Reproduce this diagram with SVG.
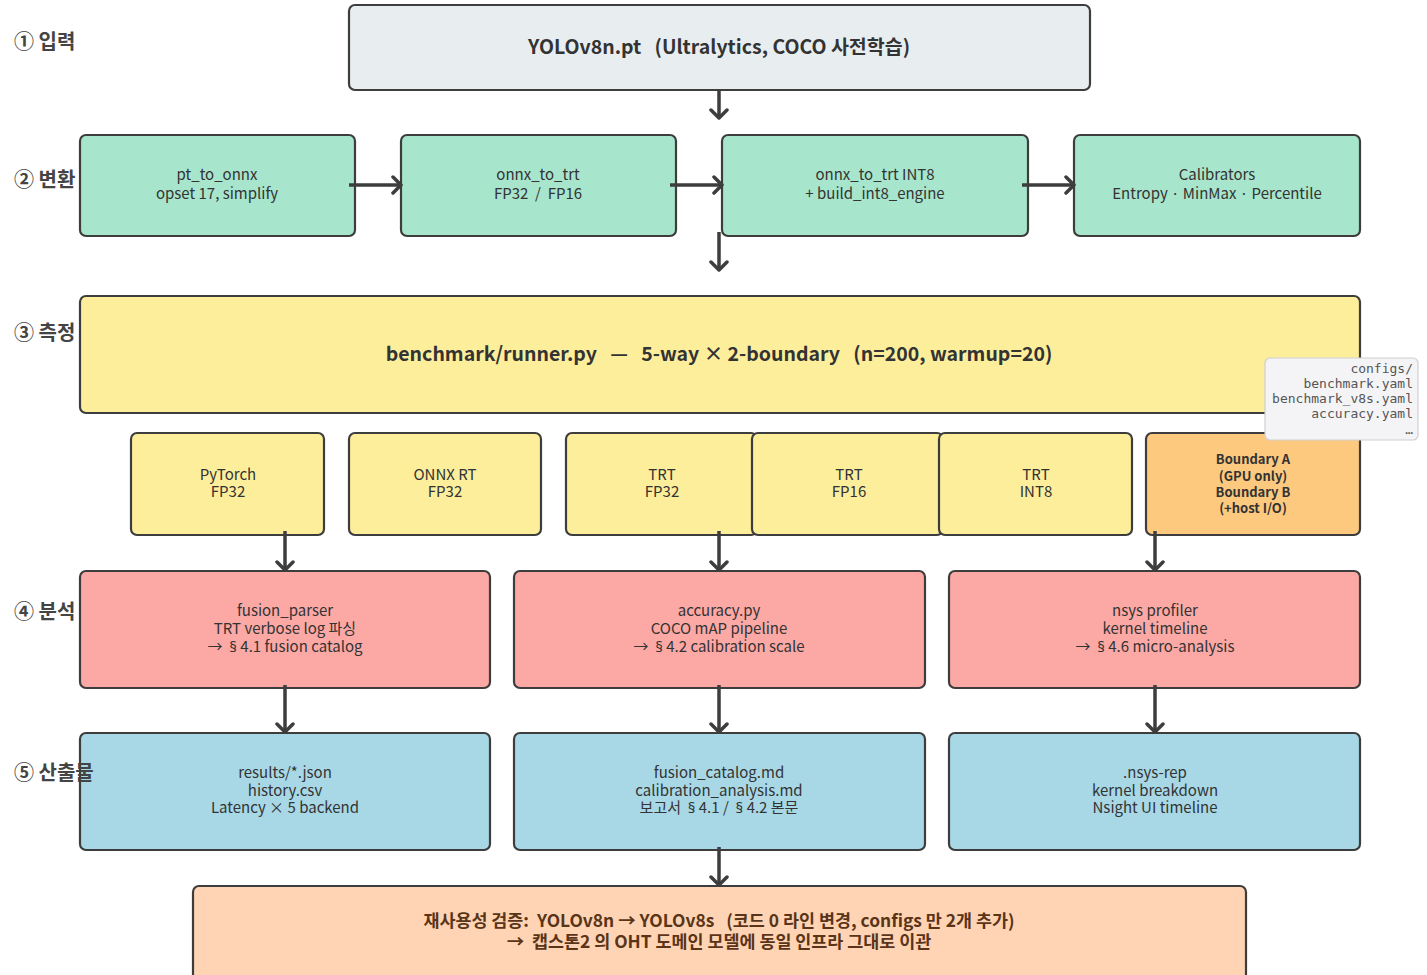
<svg xmlns="http://www.w3.org/2000/svg" width="1427" height="975" viewBox="0 0 1427 975" xml:space="preserve">
<style>
text{white-space:pre}
.box{stroke:#3d3d3d;stroke-width:2.2}
.t{font-family:"Noto Sans CJK KR","Noto Sans",sans-serif;font-size:15px;fill:#333;text-anchor:middle}
.b{font-weight:bold}
.s{font-family:"Noto Sans",sans-serif}
.lab{font-family:"Noto Sans CJK KR","Noto Sans",sans-serif;font-size:20px;font-weight:bold;fill:#444}
.mono{font-family:"DejaVu Sans Mono",monospace;font-size:13px;fill:#555;text-anchor:end}
.c{stroke:#3d3d3d;stroke-width:3.5;fill:none;marker-end:url(#ah)}
</style>
<defs>
<marker id="ah" markerUnits="userSpaceOnUse" markerWidth="20" markerHeight="20" refX="12" refY="10" orient="auto">
<path d="M4,2 L12,10 L4,18" fill="none" stroke="#3d3d3d" stroke-width="3.5" stroke-linecap="round" stroke-linejoin="round"/>
</marker>
</defs>
<rect width="1427" height="975" fill="#ffffff"/>

<g id="input"><rect class="box" x="349" y="5" width="741" height="85" rx="6" fill="#e8eef0"/><text class="t b" x="719" y="54" style="font-size:19.5px">YOLOv8n.pt   (Ultralytics, COCO 사전학습)</text></g>

<g id="pt_to_onnx"><rect class="box" x="80" y="135" width="275" height="101" rx="6" fill="#a7e5cc"/><text class="t" x="217" y="180">pt_to_onnx</text><text class="t" x="217" y="199">opset 17, simplify</text></g>
<g id="onnx_to_trt"><rect class="box" x="401" y="135" width="275" height="101" rx="6" fill="#a7e5cc"/><text class="t" x="538" y="180">onnx_to_trt</text><text class="t" x="538" y="199">FP32  /  FP16</text></g>
<g id="onnx_to_trt_int8"><rect class="box" x="722" y="135" width="306" height="101" rx="6" fill="#a7e5cc"/><text class="t" x="875" y="180">onnx_to_trt INT8</text><text class="t" x="875" y="199">+ build_int8_engine</text></g>
<g id="calibrators"><rect class="box" x="1074" y="135" width="286" height="101" rx="6" fill="#a7e5cc"/><text class="t" x="1217" y="180">Calibrators</text><text class="t" x="1217" y="199">Entropy · MinMax · Percentile</text></g>

<g id="runner"><rect class="box" x="80" y="296" width="1280" height="117" rx="6" fill="#fdee9c"/><text class="t b" x="719" y="361" style="font-size:19.5px">benchmark/runner.py   —   5-way × 2-boundary   (n=200, warmup=20)</text></g>

<g id="pytorch"><rect class="box" x="131" y="433" width="193" height="102" rx="6" fill="#fdee9c"/><text class="t" x="228" y="480">PyTorch</text><text class="t" x="228" y="497">FP32</text></g>
<g id="onnxrt"><rect class="box" x="349" y="433" width="192" height="102" rx="6" fill="#fdee9c"/><text class="t" x="445" y="480">ONNX RT</text><text class="t" x="445" y="497">FP32</text></g>
<g id="trt_fp32"><rect class="box" x="566" y="433" width="191" height="102" rx="6" fill="#fdee9c"/><text class="t" x="662" y="480">TRT</text><text class="t" x="662" y="497">FP32</text></g>
<g id="trt_fp16"><rect class="box" x="752" y="433" width="191" height="102" rx="6" fill="#fdee9c"/><text class="t" x="849" y="480">TRT</text><text class="t" x="849" y="497">FP16</text></g>
<g id="trt_int8"><rect class="box" x="939" y="433" width="193" height="102" rx="6" fill="#fdee9c"/><text class="t" x="1036" y="480">TRT</text><text class="t" x="1036" y="497">INT8</text></g>
<g id="boundary"><rect class="box" x="1146" y="433" width="214" height="102" rx="6" fill="#fdc97f"/>
<text class="t b" x="1253" y="464" style="font-size:13px">Boundary A</text><text class="t b" x="1253" y="481" style="font-size:13px">(GPU only)</text><text class="t b" x="1253" y="497" style="font-size:13px">Boundary B</text><text class="t b" x="1253" y="513" style="font-size:13px">(+host I/O)</text></g>

<g id="configs"><rect x="1265" y="358" width="153" height="82" rx="5" fill="#f4f4f7" stroke="#cfcfd4" stroke-width="1.2"/>
<text class="mono" x="1413" y="373">configs/</text><text class="mono" x="1413" y="388">benchmark.yaml</text><text class="mono" x="1413" y="403">benchmark_v8s.yaml</text><text class="mono" x="1413" y="418">accuracy.yaml</text><text class="mono" x="1413" y="434">…</text></g>

<g id="fusion_parser"><rect class="box" x="80" y="571" width="410" height="117" rx="6" fill="#fca8a5"/><text class="t" x="285" y="616">fusion_parser</text><text class="t" x="285" y="634">TRT verbose log 파싱</text><text class="t" x="285" y="652">→  <tspan class="s">§</tspan> 4.1 fusion catalog</text></g>
<g id="accuracy"><rect class="box" x="514" y="571" width="411" height="117" rx="6" fill="#fca8a5"/><text class="t" x="719" y="616">accuracy.py</text><text class="t" x="719" y="634">COCO mAP pipeline</text><text class="t" x="719" y="652">→  <tspan class="s">§</tspan> 4.2 calibration scale</text></g>
<g id="nsys"><rect class="box" x="949" y="571" width="411" height="117" rx="6" fill="#fca8a5"/><text class="t" x="1155" y="616">nsys profiler</text><text class="t" x="1155" y="634">kernel timeline</text><text class="t" x="1155" y="652">→  <tspan class="s">§</tspan> 4.6 micro-analysis</text></g>

<g id="results"><rect class="box" x="80" y="733" width="410" height="117" rx="6" fill="#a8d8e6"/><text class="t" x="285" y="778">results/*.json</text><text class="t" x="285" y="796">history.csv</text><text class="t" x="285" y="813">Latency × 5 backend</text></g>
<g id="catalog"><rect class="box" x="514" y="733" width="411" height="117" rx="6" fill="#a8d8e6"/><text class="t" x="719" y="778">fusion_catalog.md</text><text class="t" x="719" y="796">calibration_analysis.md</text><text class="t" x="719" y="813">보고서  <tspan class="s">§</tspan> 4.1 /  <tspan class="s">§</tspan> 4.2 본문</text></g>
<g id="nsysrep"><rect class="box" x="949" y="733" width="411" height="117" rx="6" fill="#a8d8e6"/><text class="t" x="1155" y="778">.nsys-rep</text><text class="t" x="1155" y="796">kernel breakdown</text><text class="t" x="1155" y="813">Nsight UI timeline</text></g>

<g id="reuse"><rect class="box" x="193" y="886" width="1053" height="100" rx="6" fill="#fed4b4"/>
<text class="t b" x="719" y="927" style="font-size:17.4px;fill:#5a3418">재사용성 검증:  YOLOv8n → YOLOv8s   (코드 0 라인 변경, configs 만 2개 추가)</text>
<text class="t b" x="719" y="948" style="font-size:17.4px;fill:#5a3418">→  캡스톤2 의 OHT 도메인 모델에 동일 인프라 그대로 이관</text></g>

<g id="connectors">
<path class="c" d="M719,90 L719,118"/>
<path class="c" d="M349,185 L401,185"/>
<path class="c" d="M670,185 L722,185"/>
<path class="c" d="M1022,185 L1074,185"/>
<path class="c" d="M719,232 L719,270"/>
<path class="c" d="M285,531 L285,570"/>
<path class="c" d="M719,531 L719,570"/>
<path class="c" d="M1155,531 L1155,570"/>
<path class="c" d="M285,685 L285,732"/>
<path class="c" d="M719,685 L719,732"/>
<path class="c" d="M1155,685 L1155,732"/>
<path class="c" d="M719,847 L719,885"/>
</g>

<g id="labels">
<text class="lab" x="14" y="49">① 입력</text>
<text class="lab" x="14" y="187">② 변환</text>
<text class="lab" x="14" y="340">③ 측정</text>
<text class="lab" x="14" y="619">④ 분석</text>
<text class="lab" x="14" y="780">⑤ 산출물</text>
</g>
</svg>
